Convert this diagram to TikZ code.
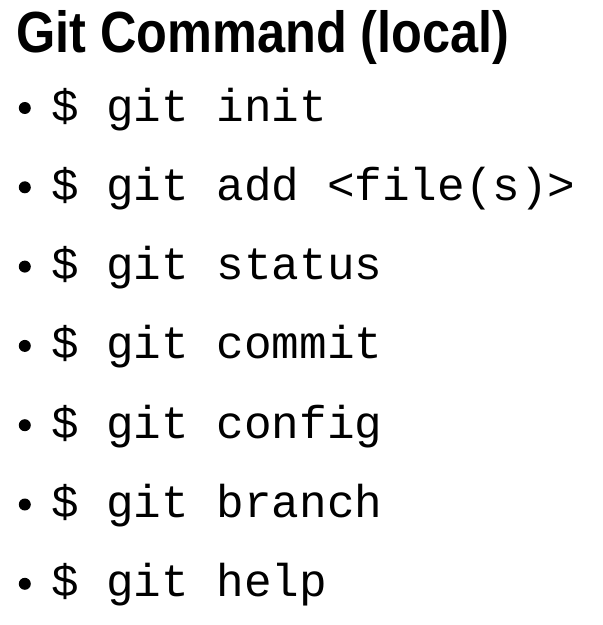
\documentclass[tikz,border=0pt]{standalone}
\usepackage{fontspec}
\newfontfamily\titlefont[FakeStretch=0.87]{Liberation Sans}
\newfontfamily\cmdfont{Liberation Mono}
\usetikzlibrary{positioning}
\tikzset{
  title/.style={font=\titlefont\bfseries\fontsize{58}{60}\selectfont, inner sep=0pt, anchor=base west},
  cmd/.style={font=\cmdfont\fontsize{46}{50}\selectfont, inner sep=0pt, text height=36pt, text depth=10pt},
  nextcmd/.style={below=of #1.west, anchor=west},
  dot/.style={circle, fill=black, inner sep=0pt, minimum size=12pt}
}
\begin{document}
\begin{tikzpicture}[x=1pt,y=-1pt,node distance=79.3pt]
   \useasboundingbox (0,0) rectangle (603,625);
   \node[title] (title) at (16,52) {Git Command (local)};
   \node[cmd] (c1) [anchor=base west] at (51,121) {\$ git init};
   \node[cmd] (c2) [nextcmd=c1] {\$ git add <file(s)>};
   \node[cmd] (c3) [nextcmd=c2] {\$ git status};
   \node[cmd] (c4) [nextcmd=c3] {\$ git commit};
   \node[cmd] (c5) [nextcmd=c4] {\$ git config};
   \node[cmd] (c6) [nextcmd=c5] {\$ git branch};
   \node[cmd] (c7) [nextcmd=c6] {\$ git help};
   % bullets
   \node[dot] (d1) [left=20pt of c1] {};
   \node[dot] (d2) [left=20pt of c2] {};
   \node[dot] (d3) [left=20pt of c3] {};
   \node[dot] (d4) [left=20pt of c4] {};
   \node[dot] (d5) [left=20pt of c5] {};
   \node[dot] (d6) [left=20pt of c6] {};
   \node[dot] (d7) [left=20pt of c7] {};
\end{tikzpicture}
\end{document}
